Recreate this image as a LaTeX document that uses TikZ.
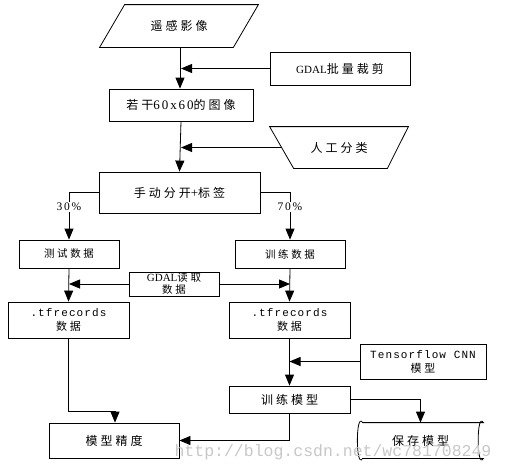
\documentclass[tikz,border=0pt]{standalone}
\usepackage{fontspec}
\setmainfont{Liberation Serif}
\newfontfamily\cjk[LetterSpace=25]{Noto Sans CJK SC}
\newfontfamily\lat[LetterSpace=15]{Liberation Serif}
\newfontfamily\monof[LetterSpace=10]{Liberation Mono}
\newfontfamily\wmfont{Liberation Mono}
\usetikzlibrary{arrows.meta,calc}
\begin{document}
\begin{tikzpicture}[x=1pt,y=-1pt,line width=0.8pt,
  box/.style={draw,inner sep=0pt,align=center},
  ghost/.style={inner sep=0pt,align=center},
  big/.style={font=\fontsize{12}{14}\selectfont},
  small/.style={font=\fontsize{10.5}{12}\selectfont},
  arr/.style={-{Triangle[length=11pt,width=9pt]}},
  pct/.style={fill=white,inner sep=1pt,font=\lat\fontsize{11.5}{12}\selectfont}]
\useasboundingbox (0,0) rectangle (505,472);

% nodes
\node[ghost,big,minimum width=158pt,minimum height=42pt] (rs) at (179,26) {\cjk 遥感影像};
\draw ([xshift=25pt]rs.north west) -- (rs.north east) -- ([xshift=-25pt]rs.south east) -- (rs.south west) -- cycle;

\node[box,big,minimum width=140pt,minimum height=33pt] (gdal1) at (340,68.5) {{\fontsize{11}{12}\selectfont GDAL}\cjk 批量裁剪};

\node[box,big,minimum width=144pt,minimum height=32pt] (img) at (181,105) {\cjk 若干{\lat\fontsize{13}{14}\selectfont 60x60}的图像};

\node[ghost,big,minimum width=138pt,minimum height=41pt] (ren) at (339,147.5) {\cjk 人工分类};
\draw (ren.north west) -- (ren.north east) -- ([xshift=-21pt]ren.south east) -- ([xshift=24pt]ren.south west) -- cycle;

\node[box,big,minimum width=161pt,minimum height=41pt] (split) at (179.5,192.5) {\cjk 手动分开{\lat\fontsize{13}{14}\selectfont +}标签};

\node[box,small,minimum width=100pt,minimum height=28pt] (test) at (69,254) {\cjk 测试数据};
\node[box,small,minimum width=110pt,minimum height=28pt] (train) at (290,254) {\cjk 训练数据};

\node[box,font=\fontsize{10.5}{12}\selectfont,minimum width=90pt,minimum height=24pt] (gdal2) at (174,284) {{\fontsize{11}{12}\selectfont GDAL}{\cjk 读取}\\{\cjk 数据}};

\node[box,font=\fontsize{11}{14}\selectfont,minimum width=121pt,minimum height=36pt] (tfl) at (68.5,320) {{\monof .tfrecords}\\{\cjk 数据}};
\node[box,font=\fontsize{11}{14}\selectfont,minimum width=121pt,minimum height=36pt] (tfr) at (289.5,320) {{\monof .tfrecords}\\{\cjk 数据}};

\node[box,font=\fontsize{11}{14}\selectfont,minimum width=126pt,minimum height=35pt] (cnn) at (423,361.5) {{\monof Tensorflow CNN}\\{\cjk 模型}};

\node[box,big,minimum width=121pt,minimum height=27pt] (trm) at (289.5,399.5) {\cjk 训练模型};
\node[box,big,minimum width=130pt,minimum height=35pt] (acc) at (114,440.5) {\cjk 模型精度};

\node[ghost,big,minimum width=125pt,minimum height=35pt] (save) at (420.5,440.5) {\cjk 保存模型};
\draw ([xshift=5pt]save.north west) -- (save.north east)
  .. controls ([xshift=-7pt,yshift=12pt]save.north east) and ([xshift=-7pt,yshift=-12pt]save.south east) .. (save.south east)
  -- ([xshift=5pt]save.south west)
  .. controls ([xshift=-2pt,yshift=-12pt]save.south west) and ([xshift=-2pt,yshift=12pt]save.north west) .. ([xshift=5pt]save.north west);

% connectors
\draw[arr] ([xshift=1pt]rs.south) -- ([xshift=1pt]rs.south |- img.north);
\draw[arr] (gdal1.west) -- (gdal1.west -| img.north);
\draw[arr] (img.south) -- (split.north);
\draw[arr] ([xshift=12pt]ren.west) -- (ren.west -| img.north);
\draw[arr] (split.west) -| node[pct,pos=0.65] {30\%} (test.north);
\draw[arr] (split.east) -| node[pct,pos=0.65] {70\%} (train.north);
\draw[arr] (gdal2.west) -- (gdal2.west -| test.south);
\draw[arr] (gdal2.east) -- (gdal2.east -| train.south);
\draw[arr] (test.south) -- (tfl.north);
\draw[arr] (train.south) -- (tfr.north);
\draw[arr] (cnn.west) -- (cnn.west -| tfr.south);
\draw[arr] (tfr.south) -- (trm.north);
\draw[arr] (trm.east) -| (save.north);
\draw[arr] (tfl.south) -- ++(0,73) -| ([xshift=1pt]acc.north);
\draw[arr] (trm.south) |- (acc.east);

% watermark
\node[inner sep=0pt,text=black!22,font=\wmfont\fontsize{16.5}{18}\selectfont] (wm) at (333,452) {http://blog.csdn.net/wc781708249};
\end{tikzpicture}
\end{document}
